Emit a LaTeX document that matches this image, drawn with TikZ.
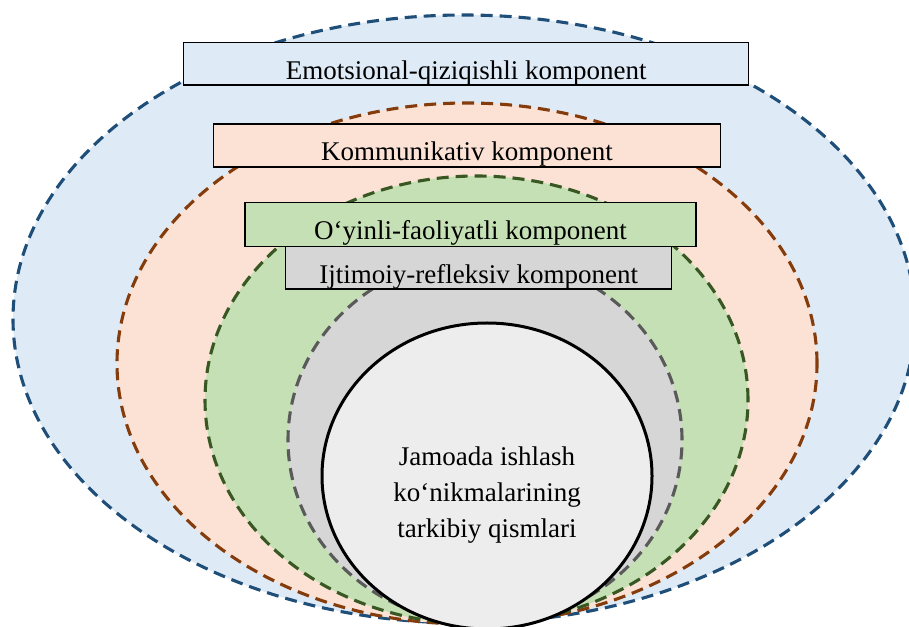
\documentclass[tikz,border=0pt]{standalone}
\usepackage{fontspec}
\setmainfont{Liberation Serif}
\usetikzlibrary{shapes.geometric}
\definecolor{blueF}{HTML}{DEEAF6}
\definecolor{blueD}{HTML}{1F4E79}
\definecolor{orangeF}{HTML}{FBE2D5}
\definecolor{orangeD}{HTML}{843C0C}
\definecolor{greenF}{HTML}{C5E0B4}
\definecolor{greenD}{HTML}{385723}
\definecolor{grayF}{HTML}{D6D6D6}
\definecolor{grayD}{HTML}{5A5A5A}
\definecolor{coreF}{HTML}{EDEDED}
\begin{document}
\begin{tikzpicture}[x=1pt,y=1pt,
  ring/.style={ellipse, inner sep=0pt, line width=3.1pt, dash pattern=on 12pt off 7pt},
  compbox/.style={draw=black, line width=1.2pt, inner sep=0pt, text height=30.6pt, text depth=0pt,
    font=\fontsize{27}{32}\selectfont},
  coretext/.style={align=center, font=\fontsize{27}{36}\selectfont}]
\useasboundingbox (0,0) rectangle (909,626);
\clip (0,0) rectangle (909,626);
% rings
\node[ring, fill=blueF, draw=blueD, minimum width=902pt, minimum height=608pt] (r1) at (464,307) {};
\node[ring, fill=orangeF, draw=orangeD, minimum width=700pt, minimum height=521pt] (r2) at (467,262.5) {};
\node[ring, fill=greenF, draw=greenD, minimum width=543pt, minimum height=448pt] (r3) at (476.5,226) {};
\node[ring, fill=grayF, draw=grayD, minimum width=394pt, minimum height=368pt] (r4) at (485,186) {};
\node[ellipse, inner sep=0pt, fill=coreF, draw=black, line width=3pt, minimum width=330pt, minimum height=306pt] (core) at (487,150) {};
\node[coretext] (coretxt) at (487,131.3) {Jamoada ishlash\\ko‘nikmalarining\\tarkibiy qismlari};
% boxes
\node[compbox, fill=blueF, minimum width=565pt, minimum height=42.3pt] (b1) at (466.2,562.1) {Emotsional-qiziqishli komponent};
\node[compbox, fill=orangeF, minimum width=507.3pt, minimum height=43pt] (b2) at (467,480.5) {Kommunikativ komponent};
\node[compbox, fill=greenF, minimum width=451pt, minimum height=44pt] (b3) at (470.5,401.3) {O‘yinli-faoliyatli komponent};
\node[compbox, fill=grayF, minimum width=386pt, minimum height=42.3pt] (b4) at (478.7,358.2) {Ijtimoiy-refleksiv komponent};
\end{tikzpicture}
\end{document}
